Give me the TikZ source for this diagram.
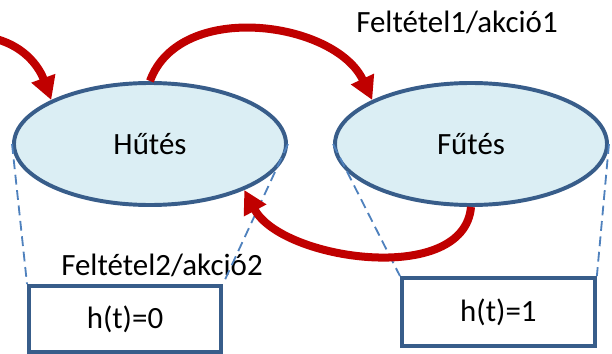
\documentclass[tikz,border=0pt]{standalone}
\usepackage{fontspec}
\setmainfont{Carlito}
\usetikzlibrary{shapes.geometric,arrows.meta,positioning}
\definecolor{stateblue}{RGB}{56,93,138}
\definecolor{statefill}{RGB}{219,238,244}
\definecolor{arrowred}{RGB}{192,0,0}
\definecolor{dashblue}{RGB}{79,129,189}

\begin{document}
\begin{tikzpicture}[
    state/.style={ellipse, draw=stateblue, line width=2.8pt, fill=statefill,
        minimum width=6.8cm, minimum height=3.05cm, font=\fontsize{22}{26}\selectfont},
    outbox/.style={rectangle, draw=stateblue, line width=2.8pt, fill=white,
        minimum width=4.8cm, minimum height=1.65cm, font=\fontsize{22}{26}\selectfont},
    lbl/.style={font=\fontsize{22}{26}\selectfont},
    proj/.style={dashed, dash pattern=on 7pt off 4pt, dashblue, line width=1.3pt},
    trans/.style={-{Triangle[length=0.58cm,width=0.6cm]}, arrowred, line width=5.7pt}
]
    \useasboundingbox (0,0) rectangle (15.3,8.825);

    \node[state] (hut) at (3.75,5.225) {Hűtés};
    \node[state] (fut) at (11.775,5.225) {Fűtés};

    \node[outbox] (h0) at (3.125,0.85) {h(t)=0};
    \node[outbox, minimum width=4.825cm, minimum height=1.7cm] (h1) at (12.46,1.025) {h(t)=1};

    \node[lbl] (c1) at (11.425,8.275) {Feltétel1/akció1};
    \node[lbl] (c2) at (4.05,2.2) {Feltétel2/akció2};

    \coordinate (init) at (-0.1,7.85);

    % projections onto the outputs
    \draw[proj] (hut.west) -- (h0.north west);
    \draw[proj] (hut.east) -- (h0.north east);
    \draw[proj] (fut.west) -- (h1.north west);
    \draw[proj] (fut.east) -- (h1.north east);

    % transitions
    \draw[trans] (init) to[out=-15,in=110] (hut.156);
    \draw[trans] (hut.north) to[out=70,in=115] (fut.156);
    \draw[trans] (fut.south) to[out=-95,in=-62,looseness=0.9] (hut.-26);
\end{tikzpicture}
\end{document}
